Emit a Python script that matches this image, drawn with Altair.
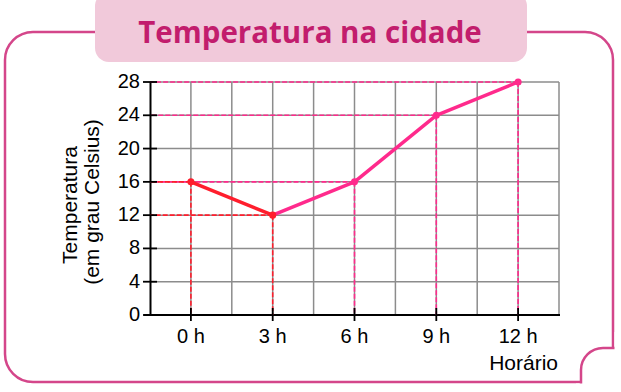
import altair as alt
import pandas as pd

# ---- data ----
hours = [0, 3, 6, 9, 12]
temps = [16, 12, 16, 24, 28]
groups = ["a", "a", "b", "b", "b"]          # first two points red, rest pink
hour_labels = ["0 h", "3 h", "6 h", "9 h", "12 h"]
y_ticks = [0, 4, 8, 12, 16, 20, 24, 28]
x_grid = [0, 1.5, 3, 4.5, 6, 7.5, 9, 10.5, 12, 13.5]
title_text = "Temperatura na cidade"
y_title_1 = "Temperatura"
y_title_2 = "(em grau Celsius)"
x_title = "Horário"

RED = "#ff1e2d"
PINK = "#ff2a8c"
FRAME = "#d4468a"
BOXFILL = "#f1c9da"
TITLECOL = "#c21d6d"
GRID = "#8c8c8c"
FONT = "Liberation Sans"

W, H = 409, 233

pts = pd.DataFrame({"hour": hours, "temp": temps, "grp": groups})
seg_rows = []
for i in range(2):
    seg_rows.append({"hour": hours[i], "temp": temps[i], "grp": "a"})
for i in range(1, len(hours)):
    seg_rows.append({"hour": hours[i], "temp": temps[i], "grp": "b"})
segs = pd.DataFrame(seg_rows)
dash = pts.iloc[::-1].reset_index(drop=True)  # pink first, red on top

xs = alt.Scale(domain=[-1.5, 13.5], nice=False, zero=False)
ys = alt.Scale(domain=[0, 28], nice=False, zero=False)
cs = alt.Scale(domain=["a", "b"], range=[RED, PINK])


def X(f):
    return alt.X(f, scale=xs, axis=None, title=None)


def Y(f):
    return alt.Y(f, scale=ys, axis=None, title=None)


one = pd.DataFrame({"k": [0]})

frame = alt.Chart(one).mark_rect(
    fill="transparent", stroke=FRAME, strokeWidth=2.5, cornerRadius=28
).encode(x=alt.value(-145), x2=alt.value(463), y=alt.value(-50), y2=alt.value(300))

cutout = alt.Chart(one).mark_rect(
    fill="white", stroke=FRAME, strokeWidth=2.5, cornerRadiusTopLeft=22
).encode(x=alt.value(431), x2=alt.value(520), y=alt.value(266), y2=alt.value(340))

cover1 = alt.Chart(one).mark_rect(fill="white").encode(
    x=alt.value(426), x2=alt.value(520), y=alt.value(301.5), y2=alt.value(340))
cover2 = alt.Chart(one).mark_rect(fill="white").encode(
    x=alt.value(464.5), x2=alt.value(520), y=alt.value(250), y2=alt.value(340))

tbox = alt.Chart(one).mark_rect(fill=BOXFILL, cornerRadius=14).encode(
    x=alt.value(-55), x2=alt.value(377), y=alt.value(-90), y2=alt.value(-20))

ttext = alt.Chart(one).mark_text(
    text=title_text, font="Open Sans", fontWeight="bold", fontSize=29.5,
    color=TITLECOL, align="center", baseline="alphabetic"
).encode(x=alt.value(160), y=alt.value(-39))

# grid
xg = alt.Chart(pd.DataFrame({"g": x_grid})).mark_rule(color=GRID, strokeWidth=1.5).encode(
    x=X("g:Q"), y=alt.value(0), y2=alt.value(H))
yg = alt.Chart(pd.DataFrame({"g": y_ticks[1:]})).mark_rule(color=GRID, strokeWidth=1.5).encode(
    y=Y("g:Q"), x=alt.value(0), x2=alt.value(W))

# axis lines
ydom = alt.Chart(one).mark_rule(color="black", strokeWidth=2).encode(
    x=alt.value(0.5), y=alt.value(0), y2=alt.value(H))
xdom = alt.Chart(one).mark_rule(color="black", strokeWidth=2).encode(
    y=alt.value(H), x=alt.value(-6), x2=alt.value(W + 1))

vdash = alt.Chart(dash).mark_rule(strokeWidth=1.6, strokeDash=[5, 2]).encode(
    x=X("hour:Q"), y=Y("temp:Q"), y2=alt.value(H),
    color=alt.Color("grp:N", scale=cs, legend=None))

hdash = alt.Chart(dash).mark_rule(strokeWidth=1.6, strokeDash=[5, 2]).encode(
    x=X("hour:Q"), x2=alt.value(0), y=Y("temp:Q"),
    color=alt.Color("grp:N", scale=cs, legend=None))

ytick_df = pd.DataFrame({"v": y_ticks})
yt = alt.Chart(ytick_df).mark_rule(color="black", strokeWidth=1.8).encode(
    y=Y("v:Q"), x=alt.value(-7), x2=alt.value(7))
ylab = alt.Chart(ytick_df).mark_text(
    font=FONT, fontSize=20, color="black", align="right", baseline="middle"
).encode(y=Y("v:Q"), x=alt.value(-10), text="v:Q")

xtick_df = pd.DataFrame({"h": hours, "lab": hour_labels})
xt = alt.Chart(xtick_df).mark_rule(color="black", strokeWidth=1.8).encode(
    x=X("h:Q"), y=alt.value(H - 7), y2=alt.value(H + 6))
xlab = alt.Chart(xtick_df).mark_text(
    font=FONT, fontSize=20, color="black", align="center", baseline="alphabetic"
).encode(x=X("h:Q"), y=alt.value(H + 28), text="lab:N")

line = alt.Chart(segs).mark_line(strokeWidth=3.5, strokeCap="round", strokeJoin="round").encode(
    x=X("hour:Q"), y=Y("temp:Q"),
    color=alt.Color("grp:N", scale=cs, legend=None),
    order="hour:Q")

points = alt.Chart(pts).mark_circle(size=50, opacity=1).encode(
    x=X("hour:Q"), y=Y("temp:Q"),
    color=alt.Color("grp:N", scale=cs, legend=None))

yt1 = alt.Chart(one).mark_text(
    text=y_title_1, font=FONT, fontSize=21, angle=270, color="black",
    align="center", baseline="middle").encode(x=alt.value(-79), y=alt.value(123))
yt2 = alt.Chart(one).mark_text(
    text=y_title_2, font=FONT, fontSize=21, angle=270, color="black",
    align="center", baseline="middle").encode(x=alt.value(-57), y=alt.value(120))
xtl = alt.Chart(one).mark_text(
    text=x_title, font=FONT, fontSize=21, color="black",
    align="right", baseline="alphabetic").encode(x=alt.value(408), y=alt.value(288))

chart = alt.layer(
    frame, cutout, cover1, cover2, tbox, ttext,
    xg, yg, ydom, xdom, vdash, hdash, line, points, yt, xt, ylab, xlab,
    yt1, yt2, xtl
).properties(
    width=W, height=H,
    autosize=alt.AutoSizeParams(type="none"),
    padding={"left": 150, "top": 82, "right": 62, "bottom": 77},
    background="white",
).configure_view(stroke="transparent")

chart.save("out.html", embed_options={"renderer": "svg", "actions": False})
